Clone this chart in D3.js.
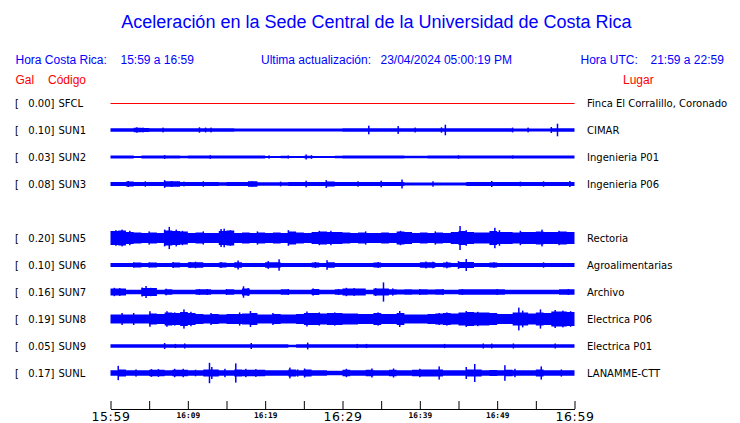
<!DOCTYPE html>
<html><head><meta charset="utf-8">
<script src="https://cdn.jsdelivr.net/npm/d3@7"></script>
<style>body{margin:0;background:#fff}svg{display:block;background:#fff}</style>
</head><body><svg id="c" width="740" height="423"></svg>
<script>
// ---------------- data ----------------
const rowOrder = ["SFCL","SUN1","SUN2","SUN3","SUN4","SUN5","SUN6","SUN7","SUN8","SUN9","SUNL"];
const codes    = ["SFCL","SUN1","SUN2","SUN3","SUN5","SUN6","SUN7","SUN8","SUN9","SUNL"];
const places   = ["Finca El Corralillo, Coronado","CIMAR","Ingenieria P01","Ingenieria P06","Rectoria",
                  "Agroalimentarias","Archivo","Electrica P06","Electrica P01","LANAMME-CTT"];
const peakGal  = [0.00,0.10,0.03,0.08,0.20,0.10,0.16,0.19,0.05,0.17];
const tickLabels = ["15:59","16:09","16:19","16:29","16:39","16:49","16:59"];

// envelope half-amplitude (Gal), one value per minute from 15:59
const envSFCL = [0,0,0,0,0,0,0,0,0,0,0,0,0,0,0,0,0,0,0,0,0,0,0,0,0,0,0,0,0,0,
                 0,0,0,0,0,0,0,0,0,0,0,0,0,0,0,0,0,0,0,0,0,0,0,0,0,0,0,0,0,0];
const envSUN1 = [0.03,0.03,0.03,0.038,0.035,0.03,0.03,0.03,0.03,0.03,0.03,0.03,0.03,0.03,0.03,
                 0.03,0.025,0.025,0.025,0.027,0.025,0.025,0.027,0.025,0.025,0.025,0.027,0.025,0.025,0.027,
                 0.03,0.03,0.03,0.03,0.03,0.03,0.03,0.03,0.03,0.03,0.03,0.03,0.03,0.03,0.03,
                 0.03,0.03,0.03,0.03,0.03,0.03,0.03,0.025,0.025,0.027,0.025,0.025,0.03,0.03,0.03];
const envSUN2 = [0.023,0.023,0.023,0.018,0.023,0.023,0.023,0.023,0.023,0.02,0.023,0.023,0.023,0.023,0.023,
                 0.023,0.023,0.023,0.023,0.023,0.018,0.015,0.02,0.015,0.018,0.02,0.015,0.018,0.015,0.02,
                 0.023,0.023,0.023,0.023,0.023,0.023,0.023,0.023,0.02,0.02,0.02,0.023,0.023,0.023,0.023,
                 0.023,0.023,0.023,0.023,0.023,0.023,0.023,0.023,0.023,0.023,0.023,0.023,0.023,0.023,0.023];
const envSUN3 = [0.033,0.033,0.042,0.033,0.033,0.033,0.033,0.045,0.045,0.033,0.033,0.033,0.033,0.033,0.03,
                 0.035,0.035,0.035,0.045,0.03,0.03,0.03,0.03,0.033,0.033,0.033,0.033,0.033,0.04,0.035,
                 0.035,0.035,0.035,0.035,0.035,0.035,0.035,0.035,0.025,0.025,0.025,0.025,0.025,0.025,0.025,
                 0.025,0.033,0.033,0.033,0.033,0.033,0.035,0.035,0.035,0.035,0.035,0.035,0.035,0.035,0.035];
const envSUN5 = [0.117,0.125,0.1,0.092,0.083,0.092,0.083,0.125,0.117,0.108,0.083,0.092,0.083,0.083,0.117,
                 0.125,0.083,0.092,0.083,0.092,0.083,0.092,0.083,0.108,0.092,0.083,0.1,0.108,0.1,0.1,
                 0.092,0.083,0.092,0.083,0.083,0.092,0.083,0.108,0.1,0.083,0.092,0.083,0.092,0.083,0.1,
                 0.117,0.1,0.092,0.092,0.117,0.1,0.1,0.092,0.1,0.1,0.108,0.1,0.1,0.108,0.1];
const envSUN6 = [0.035,0.035,0.035,0.04,0.035,0.04,0.035,0.035,0.042,0.035,0.045,0.045,0.035,0.035,0.042,
                 0.035,0.045,0.035,0.035,0.035,0.045,0.045,0.035,0.035,0.035,0.035,0.04,0.035,0.045,0.035,
                 0.032,0.032,0.032,0.032,0.04,0.032,0.032,0.032,0.032,0.032,0.045,0.045,0.032,0.042,0.032,
                 0.05,0.05,0.032,0.032,0.04,0.032,0.032,0.032,0.032,0.032,0.032,0.035,0.032,0.032,0.032];
const envSUN7 = [0.06,0.06,0.038,0.038,0.065,0.065,0.038,0.045,0.038,0.038,0.038,0.045,0.045,0.038,0.038,
                 0.045,0.038,0.06,0.038,0.038,0.038,0.038,0.045,0.038,0.038,0.038,0.05,0.038,0.038,0.045,
                 0.06,0.06,0.06,0.038,0.06,0.06,0.045,0.04,0.045,0.04,0.045,0.04,0.045,0.038,0.038,
                 0.045,0.045,0.045,0.045,0.045,0.045,0.038,0.038,0.038,0.038,0.038,0.038,0.038,0.045,0.045];
const envSUN8 = [0.075,0.075,0.075,0.075,0.075,0.092,0.083,0.108,0.1,0.117,0.1,0.083,0.075,0.083,0.075,
                 0.083,0.083,0.092,0.1,0.075,0.075,0.083,0.075,0.075,0.083,0.1,0.1,0.092,0.1,0.1,
                 0.092,0.092,0.083,0.083,0.1,0.083,0.083,0.1,0.075,0.075,0.075,0.083,0.092,0.1,0.092,
                 0.108,0.117,0.108,0.108,0.1,0.083,0.083,0.108,0.108,0.092,0.108,0.1,0.125,0.125,0.117];
const envSUN9 = [0.028,0.028,0.028,0.028,0.028,0.028,0.028,0.028,0.028,0.028,0.028,0.028,0.028,0.028,0.028,
                 0.028,0.028,0.028,0.028,0.028,0.028,0.028,0.028,0.022,0.028,0.028,0.028,0.028,0.028,0.028,
                 0.028,0.028,0.028,0.028,0.028,0.028,0.028,0.028,0.028,0.028,0.028,0.028,0.028,0.028,0.028,
                 0.028,0.028,0.028,0.028,0.028,0.028,0.028,0.028,0.028,0.028,0.028,0.028,0.028,0.028,0.028];
const envSUNL = [0.045,0.06,0.045,0.045,0.045,0.055,0.055,0.045,0.055,0.055,0.045,0.045,0.06,0.06,0.045,
                 0.045,0.06,0.055,0.055,0.055,0.045,0.045,0.045,0.06,0.045,0.058,0.045,0.045,0.038,0.038,
                 0.055,0.045,0.045,0.055,0.045,0.045,0.055,0.045,0.045,0.055,0.058,0.06,0.06,0.045,0.045,
                 0.045,0.06,0.06,0.045,0.052,0.045,0.055,0.045,0.045,0.045,0.06,0.045,0.045,0.045,0.045];

// isolated peaks: [minute after 15:59, half-amplitude Gal]
const spkSFCL = [];
const spkSUN1 = [[3.4,0.045],[4.2,0.04],[6.8,0.04],[11.5,0.045],[12.3,0.04],[13,0.04],[33.4,0.072],[37.2,0.065],
                 [39.4,0.04],[42.8,0.045],[43.3,0.088],[52,0.04],[54,0.04],[57,0.05],[57.8,0.105]];
const spkSUN2 = [[7,0.032],[12.9,0.03],[20.5,0.028],[23,0.026],[25.3,0.042],[26,0.03],[45,0.028],[52,0.026]];
const spkSUN3 = [[2.3,0.05],[4.5,0.045],[7,0.065],[7.9,0.05],[9.5,0.04],[12,0.045],[17.9,0.05],[18.3,0.045],[22,0.04],
                 [25.3,0.055],[27.9,0.065],[32,0.045],[35,0.055],[37.7,0.075],[41.7,0.045],[49.3,0.05],[53,0.04],
                 [56,0.045],[59.4,0.05]];
const spkSUN5 = [[0.7,0.13],[1.5,0.14],[2.5,0.12],[5,0.11],[7,0.14],[7.6,0.185],[8.5,0.14],[9.3,0.12],[12,0.11],
                 [14.3,0.15],[14.7,0.155],[15.5,0.13],[19,0.11],[23,0.13],[27,0.12],[28.5,0.12],[33,0.11],
                 [37.5,0.12],[42,0.11],[45.2,0.2],[46,0.13],[49.7,0.17],[50.3,0.13],[53,0.12],[55.8,0.14],[58,0.12]];
const spkSUN6 = [[3,0.045],[5,0.045],[8.1,0.05],[10.3,0.05],[11,0.055],[14.3,0.05],[16.5,0.075],[20.4,0.065],
                 [21.8,0.095],[26.5,0.05],[28,0.08],[34.6,0.05],[40.8,0.058],[41.7,0.055],[43.5,0.055],[45,0.065],
                 [46,0.1],[49.6,0.045],[56,0.045]];
const spkSUN7 = [[0.5,0.07],[1.2,0.065],[4.1,0.075],[4.6,0.1],[5.2,0.07],[7.2,0.055],[11.5,0.05],[12.5,0.05],
                 [15,0.05],[17.2,0.095],[17.8,0.065],[23,0.05],[26.2,0.06],[29.5,0.05],[30.5,0.07],[31.5,0.065],
                 [34.3,0.065],[35.3,0.16],[36.5,0.06],[40,0.05],[43,0.05],[45.5,0.05],[50,0.05],[59.2,0.05]];
const spkSUN8 = [[1.5,0.1],[3,0.1],[5.1,0.13],[7.3,0.13],[8.3,0.11],[9.5,0.16],[10.4,0.12],[13,0.1],[16.7,0.11],
                 [18.1,0.133],[21,0.1],[25.4,0.125],[27,0.11],[29,0.11],[34.6,0.11],[37.4,0.133],[42.5,0.1],
                 [43.5,0.11],[46,0.133],[47.5,0.12],[52.8,0.19],[53.3,0.14],[55.6,0.16],[57.5,0.15],[58.5,0.14],[59.5,0.13]];
const spkSUN9 = [[7,0.05],[8.4,0.035],[9.6,0.042],[18.2,0.05],[25.5,0.057],[31.9,0.035],[33.1,0.035],[43.2,0.035],
                 [48.2,0.042],[49.3,0.04],[52.1,0.042],[57.5,0.042]];
const spkSUNL = [[1,0.12],[3.3,0.06],[5.3,0.065],[6.2,0.065],[8.3,0.07],[9.4,0.07],[11,0.055],[12.8,0.17],[13.1,0.1],
                 [14.8,0.07],[16.2,0.16],[17.5,0.07],[18.8,0.065],[23.2,0.09],[24.2,0.06],[25.1,0.075],[30.5,0.07],
                 [33.8,0.075],[36.6,0.075],[40,0.07],[42.5,0.11],[46,0.1],[47.1,0.15],[51,0.13],[52.3,0.07],
                 [55.7,0.11],[58.3,0.06]];

const envs   = [envSFCL,envSUN1,envSUN2,envSUN3,envSUN5,envSUN6,envSUN7,envSUN8,envSUN9,envSUNL];
const spikes = [spkSFCL,spkSUN1,spkSUN2,spkSUN3,spkSUN5,spkSUN6,spkSUN7,spkSUN8,spkSUN9,spkSUNL];

// ---------------- drawing ----------------
const svg = d3.select("#c");
const BLUE = "#0000ff", RED = "#ff0000";
const x = d3.scaleLinear().domain([0, 60]).range([110.5, 574.5]);
const y = d3.scalePoint().domain(rowOrder).range([103, 373]);
const amp = d3.scaleLinear().domain([0, 0.2]).range([0, 12]);

// title & header
svg.append("text").attr("x", 376.5).attr("y", 28).attr("text-anchor", "middle")
  .attr("font-family", "Liberation Sans, Arial, sans-serif").attr("font-size", 18).attr("fill", BLUE)
  .text("Aceleración en la Sede Central de la Universidad de Costa Rica");

const hdr = [
  {t:"Hora Costa Rica:", x:15.5, y:64, c:BLUE},
  {t:"15:59 a 16:59", x:120.5, y:64, c:BLUE},
  {t:"Ultima actualización:", x:261, y:64, c:BLUE},
  {t:"23/04/2024 05:00:19 PM", x:380.5, y:64, c:BLUE},
  {t:"Hora UTC:", x:580.5, y:64, c:BLUE},
  {t:"21:59 a 22:59", x:650.5, y:64, c:BLUE},
  {t:"Gal", x:15.5, y:84, c:RED},
  {t:"Código", x:48, y:84, c:RED},
  {t:"Lugar", x:623, y:84, c:RED}
];
svg.selectAll("text.hdr").data(hdr).join("text").attr("class","hdr")
  .attr("x", d => d.x).attr("y", d => d.y).attr("fill", d => d.c)
  .attr("font-family", "Liberation Sans, Arial, sans-serif").attr("font-size", 12)
  .text(d => d.t);

// rows
const FONT = "DejaVu Sans, sans-serif";
codes.forEach((code, i) => {
  const cy = y(code);
  const g = svg.append("g");
  const txt = (tx, anchor, s) => g.append("text").attr("x", tx).attr("y", cy).attr("dy", "0.36em")
      .attr("text-anchor", anchor).attr("font-family", FONT).attr("font-size", 10).text(s);
  txt(15, "start", "[");
  txt(54.5, "end", peakGal[i].toFixed(2) + "]");
  txt(58.5, "start", code);
  txt(587, "start", places[i]);

  const env = envs[i];
  if (d3.max(env) === 0) {
    g.append("line").attr("x1", x(0)).attr("x2", x(60)).attr("y1", cy + 0.5).attr("y2", cy + 0.5)
      .attr("stroke", RED).attr("stroke-width", 1);
    return;
  }
  const pts = env.map((v, m) => [m, v]).concat([[60, env[env.length - 1]]]);
  const area = d3.area().curve(d3.curveStepAfter)
    .x(d => x(d[0])).y0(d => cy + amp(d[1])).y1(d => cy - amp(d[1]));
  g.append("path").attr("d", area(pts)).attr("fill", BLUE);
  g.selectAll("rect.spk").data(spikes[i]).join("rect").attr("class", "spk")
    .attr("x", d => x(d[0]) - 0.75).attr("width", 1.5)
    .attr("y", d => cy - amp(d[1])).attr("height", d => 2 * amp(d[1]))
    .attr("fill", BLUE);
});

// time axis
const axis = d3.axisBottom(x).tickValues(d3.range(0, 61, 5))
  .tickSizeInner(-8).tickSizeOuter(0).tickPadding(3)
  .tickFormat(m => m % 10 === 0 ? tickLabels[m / 10] : "");
const ax = svg.append("g").attr("transform", "translate(0,409)").call(axis);
ax.select(".domain").attr("stroke", "#000");
ax.selectAll(".tick line").attr("stroke", "#000");
ax.selectAll(".tick text").attr("fill", "#000")
  .attr("font-family", m => m % 30 === 0 ? "DejaVu Sans, sans-serif" : "DejaVu Sans Mono, monospace")
  .attr("font-weight", m => m % 30 === 0 ? "normal" : "bold")
  .attr("font-size", m => m % 30 === 0 ? 12.5 : 7.8)
  .attr("letter-spacing", m => m % 30 === 0 ? 0.6 : 0);
</script></body></html>
